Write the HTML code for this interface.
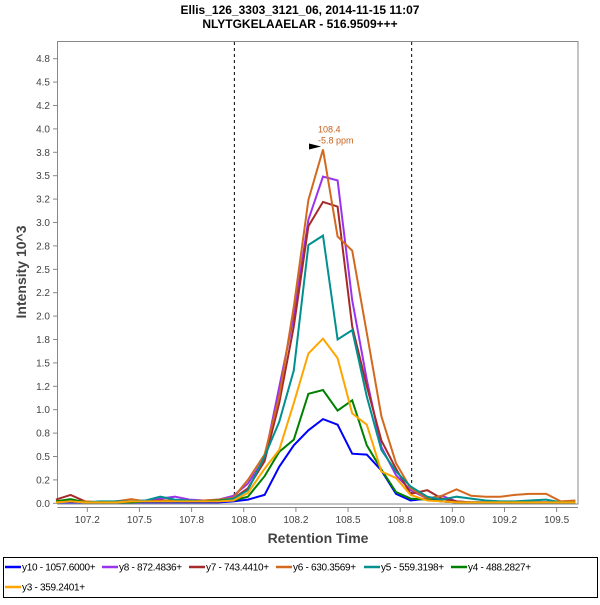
<!DOCTYPE html>
<html><head><meta charset="utf-8"><style>
body{margin:0;background:#fff;width:600px;height:600px;overflow:hidden;font-family:"Liberation Sans",sans-serif}
svg text{font-family:"Liberation Sans",sans-serif}
</style></head><body>
<svg id="chart" width="600" height="600" viewBox="0 0 600 600" xmlns="http://www.w3.org/2000/svg">
<text x="300" y="14" text-anchor="middle" font-size="12" font-weight="bold">Ellis_126_3303_3121_06, 2014-11-15 11:07</text>
<text x="300" y="28" text-anchor="middle" font-size="12" font-weight="bold">NLYTGKELAAELAR - 516.9509+++</text>
<rect x="57.5" y="41.5" width="520.5" height="462.5" fill="#fff" stroke="#888" stroke-width="1"/>
<g id="axes"></g>
<g id="series"></g>
<text x="318" y="543" text-anchor="middle" font-size="14" font-weight="bold" fill="#444">Retention Time</text>
<text transform="translate(26,272) rotate(-90)" text-anchor="middle" font-size="14" font-weight="bold" fill="#444">Intensity 10^3</text>
<rect x="3.5" y="557.5" width="594" height="40" fill="none" stroke="#000"/>
<g id="legend"></g>
</svg>
<script>
const times=[107.10,107.17,107.24,107.31,107.39,107.46,107.53,107.60,107.67,107.74,107.81,107.88,107.95,108.02,108.10,108.17,108.24,108.31,108.38,108.45,108.52,108.59,108.66,108.73,108.80,108.88,108.95,109.02,109.09,109.16,109.23,109.30,109.37,109.45,109.52,109.59];
const y10=[0.01,0.01,0.01,0.01,0.01,0.01,0.01,0.01,0.01,0.01,0.01,0.01,0.02,0.04,0.09,0.39,0.62,0.78,0.90,0.84,0.53,0.52,0.35,0.10,0.03,0.05,0.02,0.01,0.01,0.01,0.01,0.01,0.01,0.01,0.01,0.01];
const y8=[0.01,0.02,0.01,0.01,0.02,0.02,0.03,0.05,0.07,0.04,0.03,0.04,0.08,0.21,0.48,1.24,2.00,3.03,3.49,3.45,2.17,1.32,0.60,0.30,0.14,0.05,0.08,0.02,0.01,0.01,0.01,0.01,0.01,0.01,0.01,0.01];
const y7=[0.04,0.09,0.02,0.01,0.02,0.02,0.02,0.03,0.03,0.02,0.03,0.03,0.05,0.16,0.45,1.07,1.89,2.96,3.22,3.17,1.89,1.25,0.67,0.37,0.10,0.14,0.05,0.02,0.01,0.01,0.01,0.01,0.01,0.01,0.01,0.01];
const y6=[0.02,0.03,0.02,0.01,0.02,0.045,0.02,0.02,0.03,0.02,0.03,0.04,0.06,0.25,0.52,1.14,2.10,3.24,3.78,2.85,2.70,1.82,0.93,0.43,0.16,0.05,0.08,0.15,0.08,0.07,0.07,0.09,0.10,0.10,0.02,0.03];
const y5=[0.01,0.02,0.01,0.02,0.02,0.02,0.03,0.07,0.04,0.03,0.02,0.03,0.05,0.14,0.50,0.87,1.42,2.76,2.86,1.75,1.85,1.14,0.57,0.34,0.18,0.07,0.04,0.07,0.05,0.03,0.02,0.02,0.03,0.04,0.01,0.01];
const y4=[0.02,0.045,0.01,0.01,0.01,0.01,0.02,0.02,0.02,0.02,0.02,0.03,0.03,0.07,0.29,0.55,0.68,1.17,1.21,0.99,1.10,0.62,0.36,0.12,0.05,0.04,0.02,0.01,0.01,0.01,0.01,0.01,0.01,0.01,0.01,0.01];
const y3=[0.01,0.02,0.01,0.01,0.01,0.02,0.02,0.02,0.02,0.02,0.02,0.02,0.03,0.11,0.37,0.57,1.07,1.60,1.76,1.55,0.96,0.84,0.34,0.27,0.09,0.03,0.02,0.01,0.01,0.01,0.01,0.01,0.01,0.01,0.01,0.01];
const seriesNames=["y10 - 1057.6000+","y8 - 872.4836+","y7 - 743.4410+","y6 - 630.3569+","y5 - 559.3198+","y4 - 488.2827+","y3 - 359.2401+"];
const seriesColors=["#0000ff","#9933ee","#a52a2a","#d2691e","#009090","#008000","#ffa500"];
const yTickVals=[0,0.25,0.5,0.75,1,1.25,1.5,1.75,2,2.25,2.5,2.75,3,3.25,3.5,3.75,4,4.25,4.5,4.75];
const yTickLabels=["0.0","0.2","0.5","0.8","1.0","1.2","1.5","1.8","2.0","2.2","2.5","2.8","3.0","3.2","3.5","3.8","4.0","4.2","4.5","4.8"];
const xTickVals=[107.25,107.5,107.75,108,108.25,108.5,108.75,109,109.25,109.5];
const xTickLabels=["107.2","107.5","107.8","108.0","108.2","108.5","108.8","109.0","109.2","109.5"];
const boundaries=[107.955,108.805];
const peakRT=108.38, peakVal=3.78;

const NS="http://www.w3.org/2000/svg";
function X(t){return 87.3+(t-107.25)*208.6;}
function Y(v){return 503.3-v*93.6;}
function mk(tag,attrs,parent){const e=document.createElementNS(NS,tag);for(const k in attrs)e.setAttribute(k,attrs[k]);parent.appendChild(e);return e;}
const axes=document.getElementById('axes');
let el=mk('line',{x1:57.5,y1:41,x2:57.5,y2:504,stroke:'#888'},axes);


el=mk('line',{x1:57.5,y1:507.5,x2:578,y2:507.5,stroke:'#888'},axes);


yTickVals.forEach((v,i)=>{
  const y=Y(v);
  const t=mk('line',{x1:53,y1:y,x2:57.5,y2:y,stroke:'#888'},axes);
  
  
  const l=mk('text',{x:50,y:y+3.5,'text-anchor':'end','font-size':'10',fill:'#444'},axes);
  l.textContent=yTickLabels[i];
  
  
});
xTickVals.forEach((v,i)=>{
  const x=X(v);
  const t=mk('line',{x1:x,y1:507.5,x2:x,y2:512,stroke:'#888'},axes);
  
  
  const l=mk('text',{x:x,y:523,'text-anchor':'middle','font-size':'10',fill:'#444'},axes);
  l.textContent=xTickLabels[i];
  
  
});
boundaries.forEach(b=>{
  const d=mk('line',{x1:X(b),y1:42,x2:X(b),y2:503,stroke:'#000','stroke-dasharray':'3,3','stroke-width':'1'},axes);
  
  
});
const sg=document.getElementById('series');
const allSeries=[y10,y8,y7,y6,y5,y4,y3];
allSeries.forEach((s,k)=>{
  const pts=s.map((v,i)=>X(times[i]).toFixed(1)+','+Y(v).toFixed(1)).join(' ');
  const p=mk('polyline',{points:pts,fill:'none',stroke:seriesColors[k],'stroke-width':'2','stroke-linejoin':'miter'},sg);
  
  
});
// peak annotation
const px=X(peakRT), py=Y(peakVal);
const arr=mk('polygon',{points:(px-14)+','+(py-6)+' '+(px-2)+','+(py-3)+' '+(px-14)+','+py,fill:'#000'},sg);


const a1=mk('text',{x:px-5,y:py-17,'font-size':'9',fill:'#c8601a'},sg);
a1.textContent='108.4';


const a2=mk('text',{x:px-5,y:py-6,'font-size':'9',fill:'#c8601a'},sg);
a2.textContent='-5.8 ppm';


// legend
const lg=document.getElementById('legend');
const legPos=[[5,567],[102,567],[189,567],[276,567],[364,567],[451,567],[5,587]];
seriesNames.forEach((n,k)=>{
  const [x,y]=legPos[k];
  const g=mk('g',{},lg);
  
  
  mk('line',{x1:x,y1:y,x2:x+16,y2:y,stroke:seriesColors[k],'stroke-width':'2.5'},g);
  const t=mk('text',{x:x+17,y:y+3.5,'font-size':'10',fill:'#000','letter-spacing':'-0.3'},g);
  t.textContent=n;
});
</script>
</body></html>
